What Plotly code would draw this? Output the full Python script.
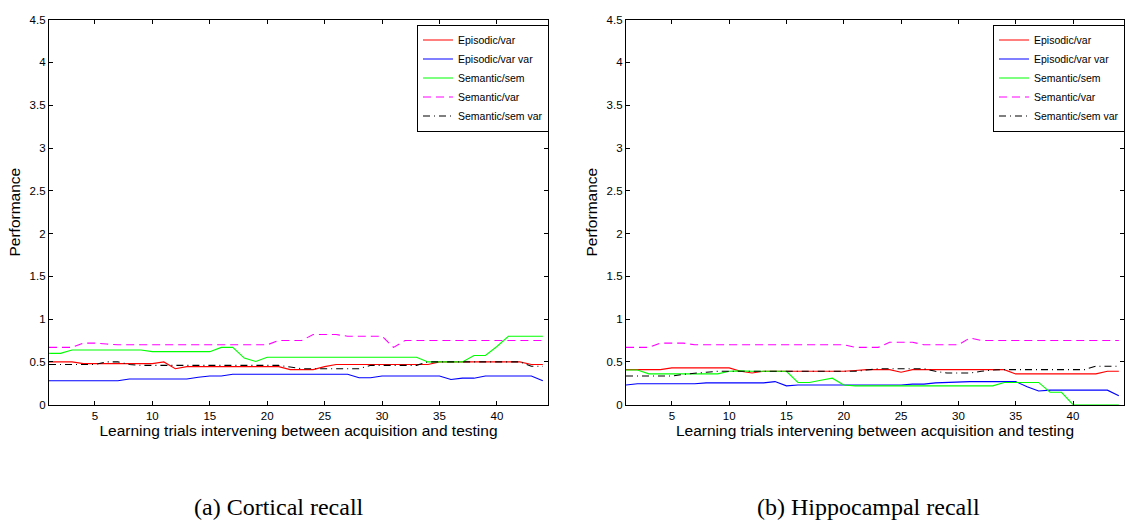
import plotly.graph_objects as go

trials = list(range(1, 45))

# (a) Cortical recall
cort_epi_var = [0.50, 0.50, 0.50, 0.48, 0.48, 0.48, 0.48, 0.48, 0.48, 0.48,
                0.50, 0.42, 0.445, 0.445, 0.445, 0.445, 0.445, 0.445, 0.445, 0.445,
                0.445, 0.41, 0.41, 0.41, 0.445, 0.47, 0.47, 0.47, 0.47, 0.47,
                0.47, 0.47, 0.47, 0.47, 0.50, 0.50, 0.50, 0.50, 0.50, 0.50,
                0.50, 0.50, 0.47, 0.47]
cort_epi_varvar = [0.28, 0.28, 0.28, 0.28, 0.28, 0.28, 0.28, 0.30, 0.30, 0.30,
                   0.30, 0.30, 0.30, 0.32, 0.335, 0.335, 0.355, 0.355, 0.355, 0.355,
                   0.355, 0.355, 0.355, 0.355, 0.355, 0.355, 0.355, 0.315, 0.315, 0.335,
                   0.335, 0.335, 0.335, 0.335, 0.335, 0.295, 0.31, 0.31, 0.335, 0.335,
                   0.335, 0.335, 0.335, 0.28]
cort_sem_sem = [0.60, 0.60, 0.64, 0.64, 0.64, 0.64, 0.64, 0.64, 0.64, 0.62,
                0.62, 0.62, 0.62, 0.62, 0.62, 0.67, 0.67, 0.545, 0.505, 0.555,
                0.555, 0.555, 0.555, 0.555, 0.555, 0.555, 0.555, 0.555, 0.555, 0.555,
                0.555, 0.555, 0.555, 0.50, 0.50, 0.50, 0.50, 0.575, 0.575, 0.68,
                0.80, 0.80, 0.80, 0.80]
cort_sem_var = [0.67, 0.67, 0.67, 0.72, 0.72, 0.71, 0.70, 0.70, 0.70, 0.70,
                0.70, 0.70, 0.70, 0.70, 0.70, 0.70, 0.70, 0.70, 0.70, 0.70,
                0.75, 0.75, 0.75, 0.82, 0.82, 0.82, 0.80, 0.80, 0.80, 0.80,
                0.67, 0.75, 0.75, 0.75, 0.75, 0.75, 0.75, 0.75, 0.75, 0.75,
                0.75, 0.75, 0.75, 0.75]
cort_sem_semvar = [0.47, 0.47, 0.47, 0.47, 0.47, 0.50, 0.50, 0.47, 0.46, 0.46,
                   0.46, 0.46, 0.46, 0.46, 0.46, 0.46, 0.46, 0.46, 0.46, 0.46,
                   0.46, 0.44, 0.42, 0.42, 0.42, 0.42, 0.42, 0.42, 0.46, 0.46,
                   0.46, 0.46, 0.46, 0.50, 0.50, 0.50, 0.50, 0.50, 0.50, 0.50,
                   0.50, 0.50, 0.45, 0.45]

# (b) Hippocampal recall
hip_epi_var = [0.41, 0.41, 0.41, 0.41, 0.43, 0.43, 0.43, 0.43, 0.43, 0.43,
               0.39, 0.37, 0.39, 0.39, 0.39, 0.39, 0.39, 0.39, 0.39, 0.39,
               0.40, 0.41, 0.41, 0.41, 0.38, 0.41, 0.41, 0.41, 0.41, 0.41,
               0.41, 0.41, 0.41, 0.41, 0.36, 0.36, 0.36, 0.36, 0.36, 0.36,
               0.36, 0.36, 0.39, 0.39]
hip_epi_varvar = [0.23, 0.245, 0.245, 0.245, 0.245, 0.245, 0.245, 0.255, 0.255, 0.255,
                  0.255, 0.255, 0.255, 0.27, 0.22, 0.23, 0.23, 0.23, 0.23, 0.23,
                  0.23, 0.23, 0.23, 0.23, 0.23, 0.24, 0.24, 0.255, 0.26, 0.27,
                  0.27, 0.27, 0.27, 0.27, 0.27, 0.21, 0.16, 0.17, 0.17, 0.17,
                  0.17, 0.17, 0.17, 0.105]
hip_sem_sem = [0.405, 0.405, 0.36, 0.36, 0.36, 0.36, 0.36, 0.36, 0.36, 0.39,
               0.395, 0.39, 0.39, 0.39, 0.39, 0.26, 0.26, 0.285, 0.31, 0.23,
               0.22, 0.22, 0.22, 0.22, 0.22, 0.22, 0.22, 0.22, 0.22, 0.22,
               0.22, 0.22, 0.22, 0.26, 0.26, 0.26, 0.26, 0.145, 0.145, 0.0,
               0.0, 0.0, 0.0, 0.0]
hip_sem_var = [0.67, 0.67, 0.67, 0.72, 0.72, 0.72, 0.70, 0.70, 0.70, 0.70,
               0.70, 0.70, 0.70, 0.70, 0.70, 0.70, 0.70, 0.70, 0.70, 0.70,
               0.67, 0.67, 0.67, 0.73, 0.73, 0.73, 0.70, 0.70, 0.70, 0.70,
               0.78, 0.75, 0.75, 0.75, 0.75, 0.75, 0.75, 0.75, 0.75, 0.75,
               0.75, 0.75, 0.75, 0.75]
hip_sem_semvar = [0.335, 0.335, 0.335, 0.335, 0.335, 0.355, 0.37, 0.38, 0.39, 0.39,
                  0.39, 0.39, 0.39, 0.39, 0.39, 0.39, 0.39, 0.39, 0.39, 0.39,
                  0.39, 0.405, 0.42, 0.42, 0.42, 0.42, 0.42, 0.39, 0.37, 0.37,
                  0.37, 0.39, 0.405, 0.41, 0.41, 0.41, 0.41, 0.41, 0.41, 0.41,
                  0.41, 0.45, 0.45, 0.45]

series_names = ["Episodic/var", "Episodic/var var", "Semantic/sem", "Semantic/var", "Semantic/sem var"]
y_ticks = [0, 0.5, 1, 1.5, 2, 2.5, 3, 3.5, 4, 4.5]
y_tick_labels = ["0", "0.5", "1", "1.5", "2", "2.5", "3", "3.5", "4", "4.5"]
x_ticks = [5, 10, 15, 20, 25, 30, 35, 40]
x_title = "Learning trials intervening between acquisition and testing"
y_title = "Performance"
captions = ["(a) Cortical recall", "(b) Hippocampal recall"]

styles = [
    dict(color="#ff0000", dash="solid"),
    dict(color="#0000ff", dash="solid"),
    dict(color="#00ff00", dash="solid"),
    dict(color="#ff00ff", dash="8px,5px"),
    dict(color="#000000", dash="7px,4px,1px,4px"),
]

W, H = 1127, 526
fig = go.Figure()

panels = [
    ([cort_epi_var, cort_epi_varvar, cort_sem_sem, cort_sem_var, cort_sem_semvar], "x", "y", "legend"),
    ([hip_epi_var, hip_epi_varvar, hip_sem_sem, hip_sem_var, hip_sem_semvar], "x2", "y2", "legend2"),
]
for data, xa, ya, lg in panels:
    for name, vals, st in zip(series_names, data, styles):
        fig.add_trace(go.Scatter(
            x=trials, y=vals, name=name, mode="lines",
            line=dict(color=st["color"], dash=st["dash"], width=1.1),
            xaxis=xa, yaxis=ya, legend=lg,
        ))

tick_font = dict(family="Liberation Sans, Arial, sans-serif", size=11.5, color="black")
title_font = dict(family="Liberation Sans, Arial, sans-serif", size=15.5, color="black")

def xax(domain, anchor):
    return dict(domain=domain, anchor=anchor, range=[1, 44.45], tickvals=x_ticks,
                ticks="inside", ticklen=4, tickcolor="black", mirror="ticks",
                showline=True, linecolor="black", linewidth=1.3, showgrid=False,
                zeroline=False, tickfont=tick_font,
                title=dict(text=x_title, font=title_font, standoff=2))

def yax(domain, anchor):
    return dict(domain=domain, anchor=anchor, range=[0, 4.5], tickvals=y_ticks,
                ticktext=y_tick_labels, ticks="inside", ticklen=4, tickcolor="black",
                mirror="ticks", showline=True, linecolor="black", linewidth=1.3,
                showgrid=False, zeroline=False, tickfont=tick_font,
                title=dict(text=y_title, font=title_font, standoff=5))

ydom = [1 - 408 / H, 1 - 14 / H]
leg_common = dict(bgcolor="white", bordercolor="black", borderwidth=1,
                  font=dict(family="Liberation Sans, Arial, sans-serif", size=10.5, color="black"),
                  xanchor="left", yanchor="top", xref="paper", yref="paper",
                  tracegroupgap=0, itemwidth=30)

cap_font = dict(family="Liberation Serif, DejaVu Serif, serif", size=24, color="black")

fig.update_layout(
    width=W, height=H, margin=dict(l=0, r=0, t=0, b=0),
    paper_bgcolor="white", plot_bgcolor="white",
    xaxis=xax([49 / W, 548 / W], "y"),
    yaxis=yax(ydom, "x"),
    xaxis2=xax([626 / W, 1124 / W], "y2"),
    yaxis2=yax(ydom, "x2"),
    legend=dict(x=417 / W, y=1 - 19 / H, **leg_common),
    legend2=dict(x=993 / W, y=1 - 19 / H, **leg_common),
    annotations=[
        dict(text=captions[0], x=279 / W, y=1 - 513 / H, xref="paper", yref="paper",
             showarrow=False, xanchor="center", yanchor="middle", font=cap_font),
        dict(text=captions[1], x=868 / W, y=1 - 513 / H, xref="paper", yref="paper",
             showarrow=False, xanchor="center", yanchor="middle", font=cap_font),
    ],
)

fig.write_html("out.html")
